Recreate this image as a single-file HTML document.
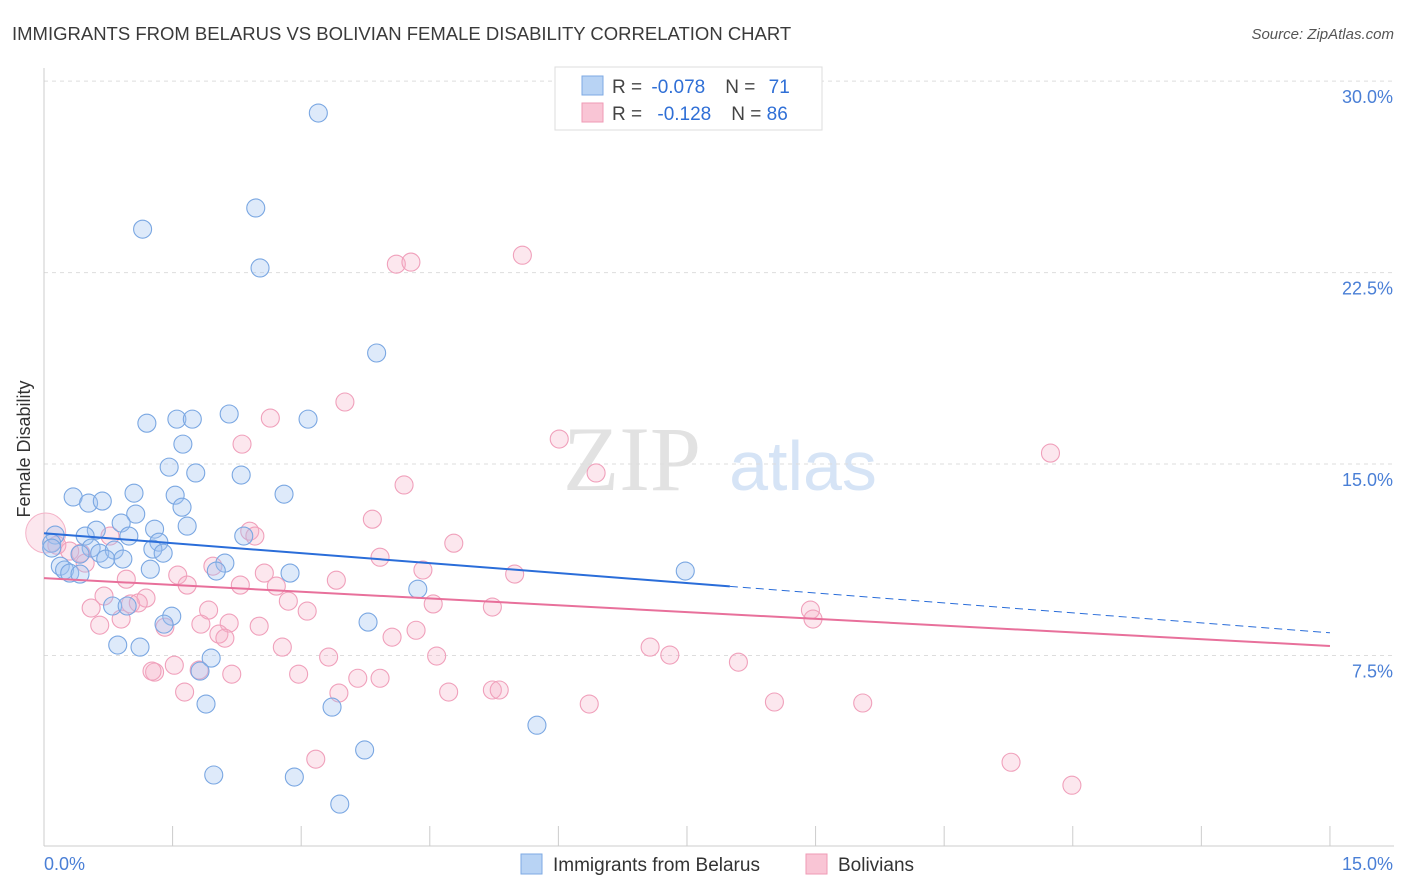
<!DOCTYPE html>
<html><head><meta charset="utf-8"><style>
body{margin:0;background:#fff;font-family:"Liberation Sans",sans-serif;}
svg{display:block}
</style></head><body>
<svg id="chart" width="1406" height="892" xmlns="http://www.w3.org/2000/svg">
<text x="12" y="40" font-size="18.5" fill="#3a3a3a">IMMIGRANTS FROM BELARUS VS BOLIVIAN FEMALE DISABILITY CORRELATION CHART</text>
<text x="1394" y="39" font-size="15" fill="#555" font-style="italic" text-anchor="end">Source: ZipAtlas.com</text>
<g>
<text x="632" y="490" font-size="92" font-family="Liberation Serif,serif" fill="#e2e2e2" text-anchor="middle">ZIP</text>
<text x="803" y="490" font-size="70" fill="#d6e4f6" text-anchor="middle">atlas</text>
</g>
<g id="grid"></g>
<g id="axes"></g>
<g id="pink"></g>
<g id="blue"></g>
<g id="lines"></g>
<text x="36" y="455" font-size="18" fill="#333" transform="rotate(-90 30 455)" text-anchor="middle">Female Disability</text>
<g>
<rect x="555" y="67" width="267" height="63" fill="#fff" stroke="#ddd"/>
<rect x="582" y="76" width="21" height="19" fill="#b8d3f4" stroke="#7ea9e3"/>
<rect x="582" y="103" width="21" height="19" fill="#f9c5d5" stroke="#ef9ab5"/>
<text x="612" y="93" font-size="19" fill="#444">R = <tspan fill="#2f6fd6" dx="4">-0.078</tspan><tspan dx="20">N = </tspan><tspan fill="#2f6fd6" dx="8">71</tspan></text>
<text x="612" y="120" font-size="19" fill="#444">R = <tspan fill="#2f6fd6" dx="10">-0.128</tspan><tspan dx="20">N = </tspan><tspan fill="#2f6fd6">86</tspan></text>
</g>
<g>
<rect x="521" y="854" width="21" height="20" fill="#b8d3f4" stroke="#7ea9e3"/>
<text x="553" y="871" font-size="19" fill="#333">Immigrants from Belarus</text>
<rect x="806" y="854" width="21" height="20" fill="#f9c5d5" stroke="#ef9ab5"/>
<text x="838" y="871" font-size="19" fill="#333">Bolivians</text>
</g>
</svg>
<script>
const yTicks=[30,22.5,15,7.5];
const yTickLabels=["30.0%","22.5%","15.0%","7.5%"];
const xTickVals=[0,1.5,3,4.5,6,7.5,9,10.5,12,13.5,15];
const xEndLabels=["0.0%","15.0%"];
const blueX=[3.20,2.47,1.15,2.52,3.88,1.20,1.55,1.73,2.16,3.08,1.62,1.46,1.77,2.30,0.34,0.52,0.68,1.05,1.53,2.80,1.61,1.07,0.90,0.61,1.29,1.67,0.13,0.48,0.99,2.33,0.09,1.34,0.09,0.55,0.65,0.82,1.27,1.39,0.42,0.72,0.92,2.11,0.19,0.24,0.30,0.42,1.24,2.01,2.87,7.48,4.36,0.80,0.97,1.49,1.40,3.78,0.86,1.12,1.95,1.82,1.89,3.36,5.75,3.74,1.98,2.92,3.45];
const blueY=[28.75,25.03,24.20,22.68,19.35,16.60,16.76,16.76,16.96,16.76,15.78,14.88,14.65,14.57,13.71,13.47,13.55,13.86,13.78,13.82,13.31,13.04,12.69,12.41,12.45,12.57,12.22,12.18,12.18,12.18,11.90,11.94,11.71,11.71,11.51,11.63,11.67,11.51,11.47,11.28,11.28,11.12,11.00,10.85,10.73,10.69,10.88,10.81,10.73,10.81,10.10,9.44,9.44,9.04,8.73,8.81,7.91,7.83,7.40,6.89,5.60,5.48,4.77,3.80,2.82,2.74,1.68];
const pinkX=[5.58,4.11,4.28,3.51,2.64,6.01,2.31,6.44,11.74,4.20,3.83,2.40,2.46,0.77,4.78,0.15,3.92,0.30,0.43,0.48,4.42,5.49,1.97,1.56,2.57,3.41,0.96,2.29,2.71,1.67,0.70,1.19,0.55,1.01,1.10,1.92,2.85,3.07,4.54,5.23,8.94,8.97,0.90,0.65,1.41,2.16,1.83,2.51,2.04,2.11,4.06,4.34,2.78,7.07,7.30,4.58,3.32,8.10,1.52,1.81,1.29,1.26,2.19,2.97,3.66,3.92,1.64,3.44,4.72,5.23,5.31,6.36,8.52,9.55,3.17,11.28,11.99];
const pinkY=[23.18,22.83,22.91,17.43,16.80,15.98,15.78,14.65,15.43,14.18,12.84,12.37,12.18,12.18,11.90,11.82,11.35,11.59,11.51,11.12,10.85,10.69,11.00,10.65,10.73,10.45,10.49,10.26,10.22,10.26,9.83,9.75,9.36,9.52,9.56,9.28,9.63,9.24,9.52,9.40,9.28,8.93,8.93,8.69,8.61,8.77,8.73,8.65,8.34,8.18,8.22,8.49,7.83,7.83,7.52,7.48,7.44,7.24,7.12,6.93,6.85,6.89,6.77,6.77,6.61,6.61,6.07,6.03,6.07,6.15,6.15,5.60,5.68,5.64,3.44,3.32,2.42];
const bigPink=[0.02,12.30];
const blueTrend=[12.29,-0.26,8.0];
const pinkTrend=[10.53,-0.177];
const X=v=>44+v*85.73, Y=v=>847-v*25.53;
const NS="http://www.w3.org/2000/svg";
function mk(p,t,a){const e=document.createElementNS(NS,t);for(const k in a)e.setAttribute(k,a[k]);p.appendChild(e);return e;}
const grid=document.getElementById('grid');
yTicks.forEach((v,i)=>{
 const l=mk(grid,'line',{x1:44,x2:1394,y1:Y(v),y2:Y(v),stroke:'#ddd','stroke-dasharray':'4,4'});
 
 
 const t=mk(grid,'text',{x:1393,y:Y(v)+22,'font-size':18,fill:'#4a7fd6','text-anchor':'end'});
 t.textContent=yTickLabels[i];
 
 
});
const ax=document.getElementById('axes');
mk(ax,'line',{x1:44,x2:44,y1:68,y2:846,stroke:'#ccc'});
mk(ax,'line',{x1:44,x2:1394,y1:846,y2:846,stroke:'#ccc'});
xTickVals.forEach(v=>{const l=mk(ax,'line',{x1:X(v),x2:X(v),y1:826,y2:846,stroke:'#ccc'});
 
 });
const t0=mk(ax,'text',{x:44,y:870,'font-size':18,fill:'#4a7fd6'});t0.textContent=xEndLabels[0];


const t1=mk(ax,'text',{x:1393,y:870,'font-size':18,fill:'#4a7fd6','text-anchor':'end'});t1.textContent=xEndLabels[1];


const pg=document.getElementById('pink');
const bp=mk(pg,'circle',{cx:X(bigPink[0]),cy:Y(bigPink[1]),r:20,fill:'rgba(246,176,200,0.3)',stroke:'#f4b3c8'});


pinkX.forEach((x,i)=>{const c=mk(pg,'circle',{cx:X(x),cy:Y(pinkY[i]),r:9,fill:'rgba(246,176,200,0.3)',stroke:'#f0a0bb','stroke-width':1.1});
 
 });
const bg=document.getElementById('blue');
blueX.forEach((x,i)=>{const c=mk(bg,'circle',{cx:X(x),cy:Y(blueY[i]),r:9,fill:'rgba(160,196,240,0.35)',stroke:'#7aa7e2','stroke-width':1.1});
 
 });
const lg=document.getElementById('lines');
const bl=mk(lg,'line',{x1:X(0),y1:Y(blueTrend[0]),x2:X(blueTrend[2]),y2:Y(blueTrend[0]+blueTrend[1]*blueTrend[2]),stroke:'#2a6dd9','stroke-width':2});


const bd=mk(lg,'line',{x1:X(blueTrend[2]),y1:Y(blueTrend[0]+blueTrend[1]*blueTrend[2]),x2:X(15),y2:Y(blueTrend[0]+blueTrend[1]*15),stroke:'#2a6dd9','stroke-width':1,'stroke-dasharray':'8,5'});


const pl=mk(lg,'line',{x1:X(0),y1:Y(pinkTrend[0]),x2:X(15),y2:Y(pinkTrend[0]+pinkTrend[1]*15),stroke:'#e8709b','stroke-width':2});


</script>
</body></html>
